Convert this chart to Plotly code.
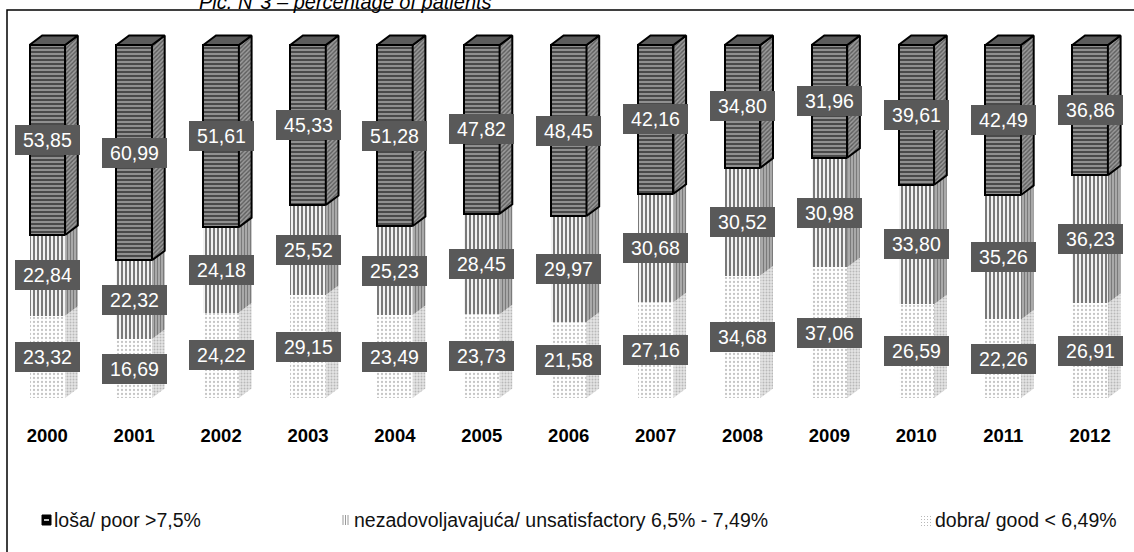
import plotly.graph_objects as go

# ---- data -------------------------------------------------------------
years = ["2000", "2001", "2002", "2003", "2004", "2005", "2006",
         "2007", "2008", "2009", "2010", "2011", "2012"]
poor = [53.85, 60.99, 51.61, 45.33, 51.28, 47.82, 48.45,
        42.16, 34.80, 31.96, 39.61, 42.49, 36.86]
unsatisfactory = [22.84, 22.32, 24.18, 25.52, 25.23, 28.45, 29.97,
                  30.68, 30.52, 30.98, 33.80, 35.26, 36.23]
good = [23.32, 16.69, 24.22, 29.15, 23.49, 23.73, 21.58,
        27.16, 34.68, 37.06, 26.59, 22.26, 26.91]

legend_labels = ["loša/ poor >7,5%",
                 "nezadovoljavajuća/ unsatisfactory 6,5% - 7,49%",
                 "dobra/ good < 6,49%"]
title_text = "Pic. N°3 – percentage of patients"

# ---- page geometry (pixels) -------------------------------------------
W, H = 1134, 552
FIRST_COL_PX = 47.3      # centre of the first column
COL_STEP_PX = 86.9       # distance between columns
BASE_PX = 398            # where 0 % sits
PX_PER_PCT = 3.53
AXIS_PX = 415            # bottom of the plotting area
FACE_W_PX = 35.6
DEPTH_X_PX = 12.7
DEPTH_Y_PX = 9.5

x_range = [(0 - FIRST_COL_PX) / COL_STEP_PX, (W - FIRST_COL_PX) / COL_STEP_PX]
y_range = [(BASE_PX - AXIS_PX) / PX_PER_PCT, BASE_PX / PX_PER_PCT]

bar_w = FACE_W_PX / COL_STEP_PX
dx = DEPTH_X_PX / COL_STEP_PX
dy = DEPTH_Y_PX / PX_PER_PCT

FONT = "Liberation Sans, Arial, sans-serif"


def px_x(px):
    return px / W


def px_y(py):
    return (AXIS_PX - py) / AXIS_PX


xs = list(range(len(years)))
base_unsat = good[:]
base_poor = [g + u for g, u in zip(good, unsatisfactory)]
tops = [b + p for b, p in zip(base_poor, poor)]


def side_faces(bases, ends):
    px, py = [], []
    for i, (b, e) in enumerate(zip(bases, ends)):
        xr = i + bar_w / 2
        px += [xr, xr + dx, xr + dx, xr, xr, None]
        py += [b, b + dy, e + dy, e, b, None]
    return px, py


def top_faces(ends):
    px, py = [], []
    for i, e in enumerate(ends):
        xl, xr = i - bar_w / 2, i + bar_w / 2
        px += [xl, xl + dx, xr + dx, xr, xl, None]
        py += [e, e + dy, e + dy, e, e, None]
    return px, py


fig = go.Figure()

# front faces
fig.add_trace(go.Bar(
    x=xs, y=good, width=bar_w, name=legend_labels[2],
    marker=dict(color="white", line=dict(width=0),
                pattern=dict(shape=".", fgcolor="#8a8a8a", bgcolor="white",
                             size=4, solidity=0.25)),
))
fig.add_trace(go.Bar(
    x=xs, y=unsatisfactory, width=bar_w, name=legend_labels[1],
    marker=dict(color="white", line=dict(width=0),
                pattern=dict(shape="|", fgcolor="#000000", bgcolor="#f2f2f2",
                             size=4, solidity=0.5)),
))
fig.add_trace(go.Bar(
    x=xs, y=poor, width=bar_w, name=legend_labels[0],
    marker=dict(color="#5a5a5a", line=dict(width=2.5, color="black"),
                pattern=dict(shape="-", fgcolor="#f0f0f0", bgcolor="#4a4a4a",
                             size=4, solidity=0.42)),
))

# side faces
sx, sy = side_faces([0] * len(good), good)
fig.add_trace(go.Scatter(
    x=sx, y=sy, mode="lines", fill="toself", line=dict(width=0),
    fillcolor="#d6d6d6",
    fillpattern=dict(shape=".", fgcolor="#8c8c8c", bgcolor="#e4e4e4",
                     size=3, solidity=0.35),
    hoverinfo="skip", showlegend=False,
))
sx, sy = side_faces(base_unsat, base_poor)
fig.add_trace(go.Scatter(
    x=sx, y=sy, mode="lines", fill="toself", line=dict(width=0),
    fillcolor="#a0a0a0",
    fillpattern=dict(shape="|", fgcolor="#3c3c3c", bgcolor="#b8b8b8",
                     size=3, solidity=0.5),
    hoverinfo="skip", showlegend=False,
))
sx, sy = side_faces(base_poor, tops)
fig.add_trace(go.Scatter(
    x=sx, y=sy, mode="lines", fill="toself", line=dict(width=2, color="black"),
    fillcolor="#666666",
    fillpattern=dict(shape="/", fgcolor="#202020", bgcolor="#9a9a9a",
                     size=3, solidity=0.45),
    hoverinfo="skip", showlegend=False,
))
tx, ty = top_faces(tops)
fig.add_trace(go.Scatter(
    x=tx, y=ty, mode="lines", fill="toself", line=dict(width=2, color="black"),
    fillcolor="#5c5c5c", hoverinfo="skip", showlegend=False,
))

# value labels
annotations = []
for series, bases in ((good, [0] * len(good)),
                      (unsatisfactory, base_unsat),
                      (poor, base_poor)):
    for i, (v, b) in enumerate(zip(series, bases)):
        annotations.append(dict(
            x=i, y=b + v / 2, xref="x", yref="y",
            text=f"{v:.2f}".replace(".", ","), showarrow=False,
            font=dict(family=FONT, size=19.5, color="white"),
            bgcolor="#595959", width=65, height=30, borderpad=0,
            borderwidth=0,
        ))

# heading above the frame, running off the top edge of the page
annotations.append(dict(
    x=px_x(345), y=px_y(2), xref="paper", yref="paper",
    text=f"<i>{title_text}</i>", showarrow=False,
    xanchor="center", yanchor="middle",
    font=dict(family=FONT, size=20, color="black"),
))

# legend entries
legend_y = px_y(520)
for px, label in ((52, legend_labels[0]), (352, legend_labels[1]),
                  (933, legend_labels[2])):
    annotations.append(dict(
        x=px_x(px), y=legend_y, xref="paper", yref="paper",
        text=label, showarrow=False, xanchor="left", yanchor="middle",
        font=dict(family=FONT, size=19.5, color="#111111"),
    ))

shapes = [
    # outer frame
    dict(type="rect", xref="paper", yref="paper",
         x0=px_x(7), x1=px_x(W + 20), y0=px_y(H + 20), y1=px_y(10),
         line=dict(color="black", width=1.5), fillcolor="rgba(0,0,0,0)"),
    # legend key: poor
    dict(type="rect", xref="paper", yref="paper",
         x0=px_x(42), x1=px_x(51), y0=px_y(525), y1=px_y(515),
         line=dict(color="black", width=1), fillcolor="black"),
    dict(type="line", xref="paper", yref="paper",
         x0=px_x(44), x1=px_x(49), y0=px_y(520), y1=px_y(520),
         line=dict(color="white", width=1.5)),
]
# legend key: unsatisfactory
for px in (343, 345.5, 348):
    shapes.append(dict(type="line", xref="paper", yref="paper",
                       x0=px_x(px), x1=px_x(px), y0=px_y(525), y1=px_y(515),
                       line=dict(color="#9a9a9a", width=1)))
# legend key: good
for px in (921, 924, 927, 930):
    for py in (516, 519, 522, 525):
        shapes.append(dict(type="rect", xref="paper", yref="paper",
                           x0=px_x(px), x1=px_x(px + 1), y0=px_y(py + 1),
                           y1=px_y(py), line=dict(width=0),
                           fillcolor="#b8b8b8"))

fig.update_layout(
    width=W, height=H,
    margin=dict(l=0, r=0, t=0, b=H - AXIS_PX),
    paper_bgcolor="white", plot_bgcolor="white",
    barmode="stack", bargap=0, showlegend=False,
    annotations=annotations, shapes=shapes,
    xaxis=dict(range=x_range, tickvals=xs, ticktext=years, showgrid=False,
               zeroline=False, showline=False, ticks="",
               ticklabelstandoff=7,
               tickfont=dict(family=FONT, size=18.5, color="black",
                             weight="bold"),
               fixedrange=True),
    yaxis=dict(range=y_range, showgrid=False, zeroline=False,
               showline=False, showticklabels=False, ticks="",
               fixedrange=True),
)

fig.write_html("out.html")
